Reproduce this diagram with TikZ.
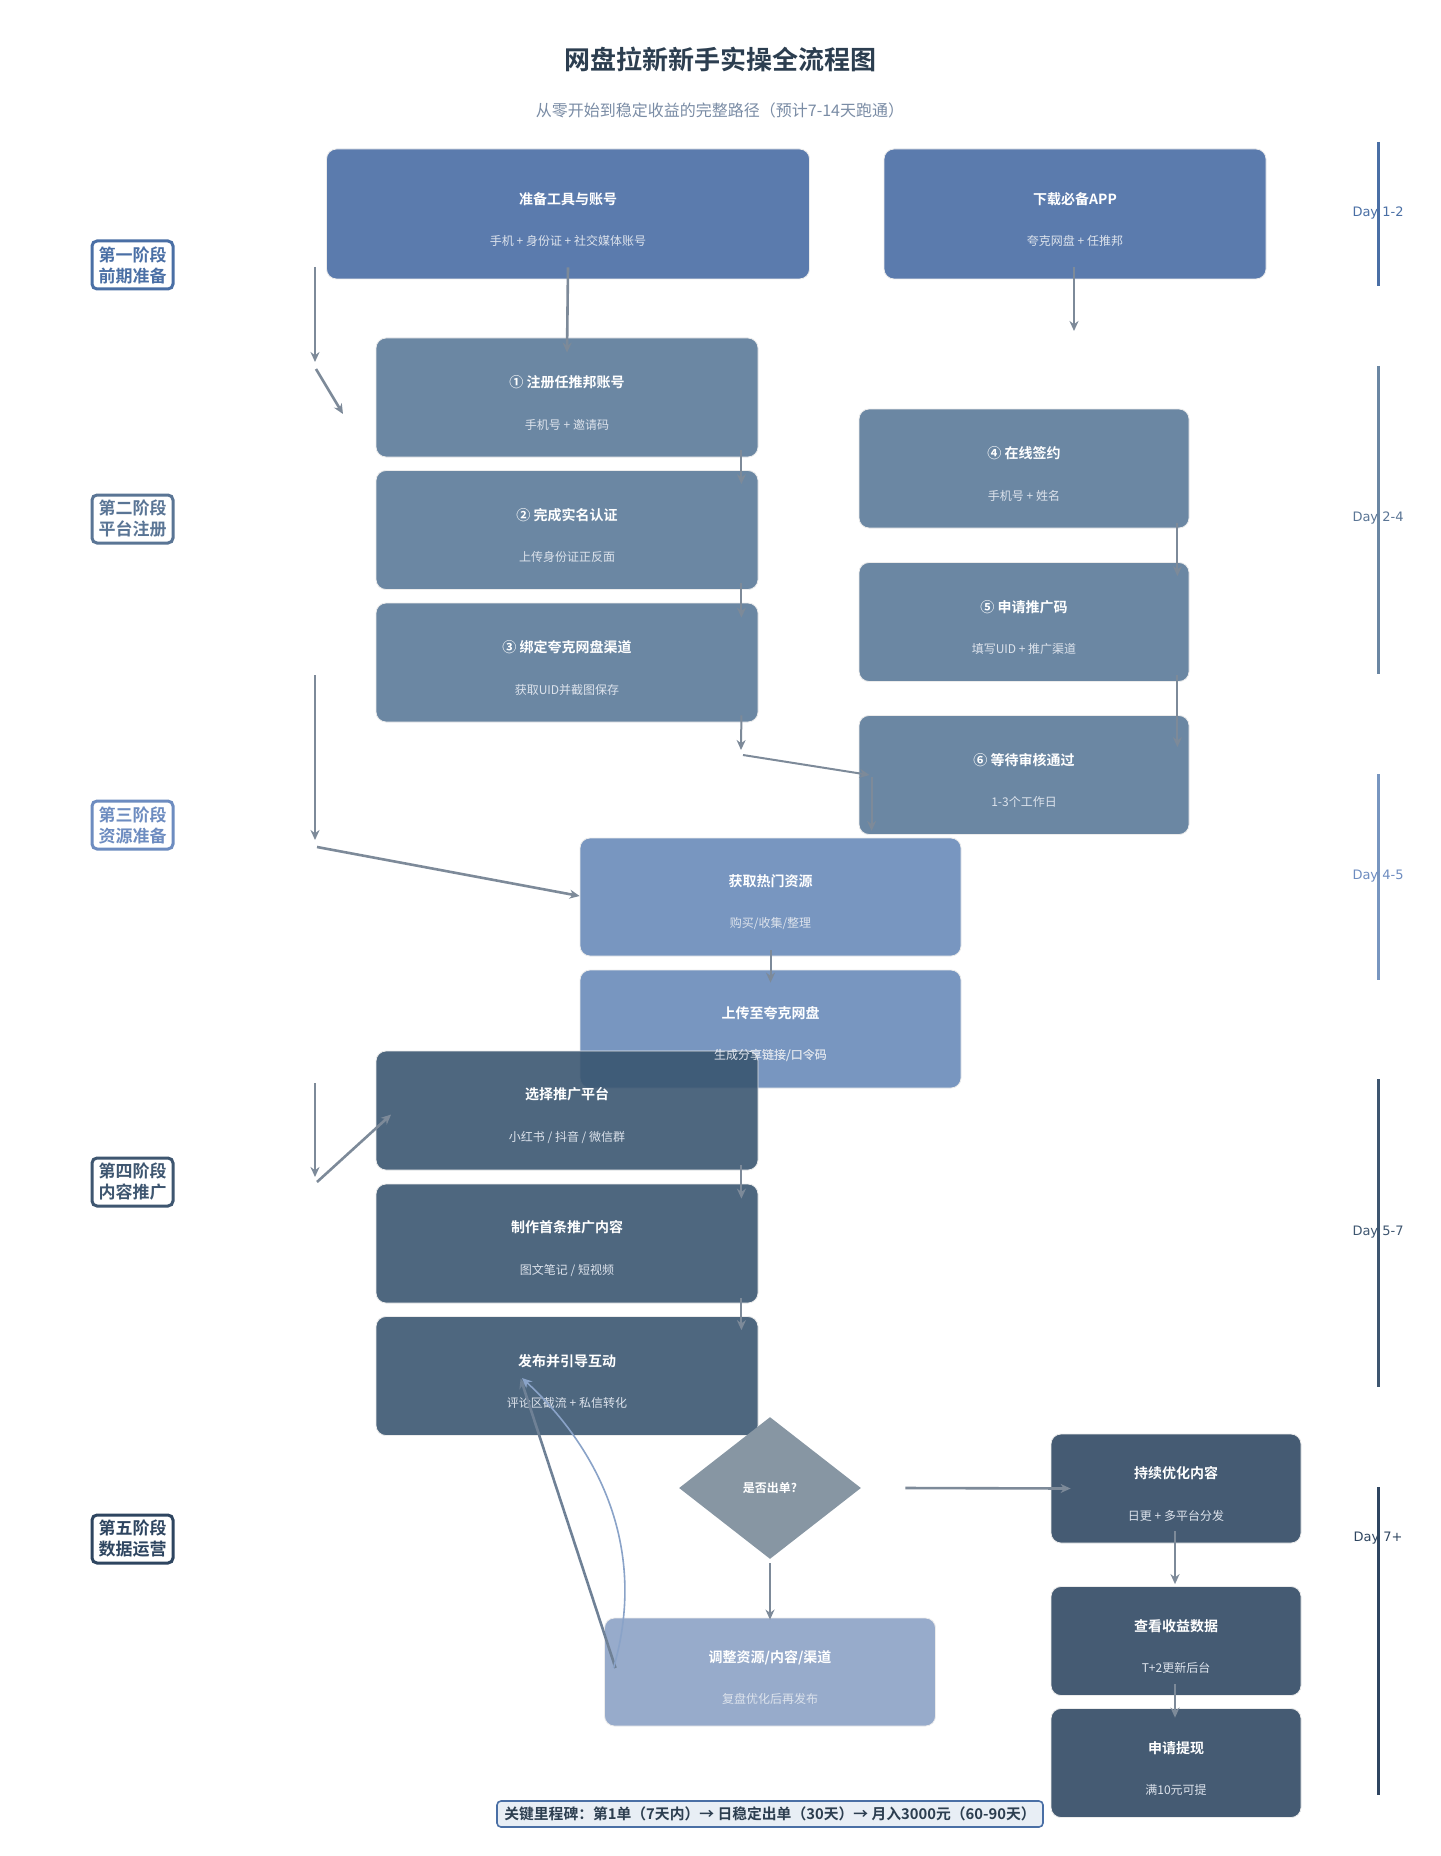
\documentclass[tikz,border=0pt]{standalone}
\usepackage{fontspec}
\setmainfont{Noto Sans CJK SC}[BoldFont={Noto Sans CJK SC Bold}]
\newfontfamily\dayfont{DejaVu Sans}
\usetikzlibrary{shapes.geometric,arrows.meta}

\definecolor{ink}{HTML}{2C3E50}
\definecolor{subgray}{HTML}{7A8CA5}
\definecolor{subtext}{HTML}{DDE3EC}
\definecolor{prepblue}{HTML}{5B7BAD}
\definecolor{regblue}{HTML}{6B87A3}
\definecolor{resblue}{HTML}{7896C0}
\definecolor{promblue}{HTML}{395570}
\definecolor{opsblue}{HTML}{455B73}
\definecolor{askgray}{HTML}{8796A3}
\definecolor{fixblue}{HTML}{97ABCB}
\definecolor{arrowgray}{HTML}{7D8A99}
\definecolor{loopgray}{HTML}{6F8196}
\definecolor{loopblue}{HTML}{8AA3C8}
\definecolor{stageA}{HTML}{4A6FA5}
\definecolor{stageB}{HTML}{5A7595}
\definecolor{stageC}{HTML}{6D8CC0}
\definecolor{stageD}{HTML}{3E5670}
\definecolor{stageE}{HTML}{2E4560}
\definecolor{notefill}{HTML}{E8EEF5}

% title line + grey sub line inside a card
\newcommand{\cardtext}[2]{{\fontsize{7}{8}\selectfont\bfseries\rule{0pt}{11.3pt}#1}\\[12.75pt]{\color{subtext}#2}}

\begin{document}
\begin{tikzpicture}[x=0.5pt,y=-0.5pt,
    card/.style={rectangle, rounded corners=5pt, draw=white!85!gray, line width=0.4pt,
      text=white, align=center, inner sep=0pt, font=\fontsize{6}{8}\selectfont},
    prepcard/.style={card, fill=prepblue, minimum height=65pt},
    regcard/.style={card, fill=regblue, minimum width=191pt, minimum height=59.5pt},
    rescard/.style={card, fill=resblue, minimum width=190.5pt, minimum height=59pt},
    promcard/.style={card, fill=promblue, fill opacity=0.89, text opacity=1,
      minimum width=191pt, minimum height=59.5pt},
    opscard/.style={card, fill=opsblue, minimum width=125pt, minimum height=54.5pt},
    fixcard/.style={card, fill=fixblue, minimum width=165.5pt, minimum height=54pt},
    stagebox/.style={rectangle, rounded corners=2.5pt, fill=white, line width=1.5pt,
      align=center, inner sep=0pt, minimum width=40.5pt, minimum height=24pt,
      font=\fontsize{8.5}{10.5}\selectfont\bfseries},
    arr/.style={draw=arrowgray, line width=1.3pt, -{Stealth[length=5pt,width=4.5pt]}},
    thinarr/.style={arr, line width=1pt},
    daybar/.style={line width=1.5pt},
    daytag/.style={font=\dayfont\fontsize{6.5}{7.5}\selectfont}]

  \fill[white] (0,0) rectangle (1440,1856);
  \useasboundingbox (0,0) rectangle (1440,1856);

  % heading
  \node[font=\fontsize{13}{15}\selectfont\bfseries, text=ink] (title) at (720,59)
    {网盘拉新新手实操全流程图};
  \node[font=\fontsize{8}{10}\selectfont, text=subgray] (subtitle) at (720,110)
    {从零开始到稳定收益的完整路径（预计7-14天跑通）};

  % stage labels
  \node[stagebox, draw=stageA, text=stageA] (st1) at (132.5,265) {第一阶段\\前期准备};
  \node[stagebox, draw=stageB, text=stageB] (st2) at (132.5,519) {第二阶段\\平台注册};
  \node[stagebox, draw=stageC, text=stageC] (st3) at (132.5,825) {第三阶段\\资源准备};
  \node[stagebox, draw=stageD, text=stageD] (st4) at (132.5,1182) {第四阶段\\内容推广};
  \node[stagebox, draw=stageE, text=stageE] (st5) at (132.5,1539) {第五阶段\\数据运营};

  % stage 1
  \node[prepcard, minimum width=241.5pt] (tools) at (568,214)
    {\cardtext{准备工具与账号}{手机 + 身份证 + 社交媒体账号}};
  \node[prepcard, minimum width=191pt] (app) at (1075,214)
    {\cardtext{下载必备APP}{夸克网盘 + 任推邦}};

  % stage 2
  \node[regcard] (reg) at (567,397.5) {\cardtext{① 注册任推邦账号}{手机号 + 邀请码}};
  \node[regcard] (realname) at (567,530) {\cardtext{② 完成实名认证}{上传身份证正反面}};
  \node[regcard] (bind) at (567,662.5) {\cardtext{③ 绑定夸克网盘渠道}{获取UID并截图保存}};
  \node[regcard, minimum width=165pt] (sign) at (1024,468.5) {\cardtext{④ 在线签约}{手机号 + 姓名}};
  \node[regcard, minimum width=165pt] (code) at (1024,622) {\cardtext{⑤ 申请推广码}{填写UID + 推广渠道}};
  \node[regcard, minimum width=165pt] (audit) at (1024,775) {\cardtext{⑥ 等待审核通过}{1-3个工作日}};

  % stage 3
  \node[rescard] (getres) at (770.5,897) {\cardtext{获取热门资源}{购买/收集/整理}};
  \node[rescard] (upload) at (770.5,1029) {\cardtext{上传至夸克网盘}{生成分享链接/口令码}};

  % stage 4
  \node[promcard] (pick) at (567,1110.5) {\cardtext{选择推广平台}{小红书 / 抖音 / 微信群}};
  \node[promcard] (make) at (567,1243.5) {\cardtext{制作首条推广内容}{图文笔记 / 短视频}};
  \node[promcard] (post) at (567,1376) {\cardtext{发布并引导互动}{评论区截流 + 私信转化}};
  % upload sub line stays on top of the overlapping card
  \node[card, draw=none, minimum width=190.5pt, minimum height=59pt] (uploadsub) at (upload)
    {\cardtext{\phantom{上传至夸克网盘}}{生成分享链接/口令码}};

  % stage 5
  \node[diamond, fill=askgray, text=white, inner sep=0pt, minimum width=91pt,
    minimum height=71pt, font=\fontsize{6}{7}\selectfont\bfseries] (ask) at (770,1488) {是否出单?};
  \node[opscard] (keep) at (1176,1488.5) {\cardtext{持续优化内容}{日更 + 多平台分发}};
  \node[opscard] (stats) at (1176,1641) {\cardtext{查看收益数据}{T+2更新后台}};
  \node[opscard] (cash) at (1176,1763) {\cardtext{申请提现}{满10元可提}};
  \node[fixcard] (adjust) at (770,1672) {\cardtext{调整资源/内容/渠道}{复盘优化后再发布}};

  % milestone note
  \node[rectangle, rounded corners=2pt, draw=stageA, fill=notefill, line width=0.8pt,
    text=ink, inner sep=0pt, minimum width=273pt, minimum height=13pt,
    font=\fontsize{7.4}{8}\selectfont\bfseries] (milestone) at (770,1814)
    {关键里程碑：第1单（7天内）→ 日稳定出单（30天）→ 月入3000元（60-90天）};

  % day bars
  \draw[daybar, stageA] (1378,142) -- (1378,286);
  \node[daytag, text=stageA] (day1) at (1378,213) {Day 1-2};
  \draw[daybar, regblue] (1378,366) -- (1378,674);
  \node[daytag, text=stageB] (day2) at (1378,518) {Day 2-4};
  \draw[daybar, resblue] (1378,774) -- (1378,980);
  \node[daytag, text=stageC] (day3) at (1378,876) {Day 4-5};
  \draw[daybar, stageD] (1378,1079) -- (1378,1387);
  \node[daytag, text=stageD] (day4) at (1378,1232) {Day 5-7};
  \draw[daybar, stageE] (1378,1487) -- (1378,1795);
  \node[daytag, text=stageE] (day5) at (1378,1538) {Day 7+};

  % free ends on the left
  \coordinate (l1a) at (315,267);  \coordinate (l1b) at (315,362);
  \coordinate (l1c) at (316,369);  \coordinate (l1d) at (343,414);
  \coordinate (l3a) at (315,675);  \coordinate (l3b) at (315,840);
  \coordinate (l3c) at (317,847);
  \coordinate (l4a) at (315,1083); \coordinate (l4b) at (315,1177);
  \coordinate (l4c) at (317,1182);
  \coordinate (appdrop) at (1074,331);
  \coordinate (binddrop) at (741,750);
  \coordinate (jog) at (743,755);

  % connectors
  \draw[arr] (l1a) -- (l1b);
  \draw[arr] (l1c) -- (l1d);
  \draw[arr] ([yshift=6pt]tools.south) -- ([yshift=-7.5pt]reg.north);
  \draw[arr] ([xshift=-0.5pt,yshift=6pt]app.south) -- (appdrop);
  \draw[thinarr] ([xshift=-8.5pt,yshift=3.5pt]reg.south east) -- ([xshift=-8.5pt,yshift=-7pt]realname.north east);
  \draw[thinarr] ([xshift=-8.5pt,yshift=3.5pt]realname.south east) -- ([xshift=-8.5pt,yshift=-7.5pt]bind.north east);
  \draw[thinarr] ([xshift=-8.5pt,yshift=3.5pt]bind.south east) -- (binddrop);
  \draw[thinarr] (jog) -- ([xshift=5.5pt]audit.west);
  \draw[thinarr] ([xshift=6.5pt,yshift=-1pt]audit.west) -- ([xshift=6.5pt,yshift=2pt]audit.south west);
  \draw[thinarr] ([xshift=-6pt,yshift=2.5pt]sign.south east) -- ([xshift=-6pt,yshift=-7pt]code.north east);
  \draw[thinarr] ([xshift=-6pt,yshift=3.25pt]code.south east) -- ([xshift=-6pt,yshift=-16pt]audit.north east);

  \draw[arr] (l3a) -- (l3b);
  \draw[arr] (l3c) -- ([yshift=0.5pt]getres.west);
  \draw[thinarr] ([yshift=3pt]getres.south) -- ([yshift=-6.5pt]upload.north);

  \draw[arr] (l4a) -- (l4b);
  \draw[arr] (l4c) -- ([xshift=7.75pt,yshift=-2pt]pick.west);
  \draw[thinarr] ([xshift=-8.5pt,yshift=2.5pt]pick.south east) -- ([xshift=-8.5pt,yshift=-7.5pt]make.north east);
  \draw[thinarr] ([xshift=-8.5pt,yshift=2.5pt]make.south east) -- ([xshift=-8.5pt,yshift=-7pt]post.north east);

  \draw[arr] ([xshift=22pt]ask.east) -- ([xshift=10pt]keep.west);
  \draw[arr] ([yshift=-2pt]ask.south) -- ([yshift=-1pt]adjust.north);
  \draw[arr] ([xshift=-0.5pt,yshift=6pt]keep.south) -- ([xshift=-0.5pt,yshift=1pt]stats.north);
  \draw[arr] ([xshift=-0.5pt,yshift=5.75pt]stats.south) -- ([xshift=-0.5pt,yshift=-4.75pt]cash.north);
  \draw[arr, draw=loopgray] ([xshift=5.7pt,yshift=2pt]adjust.west) -- ([xshift=-23.2pt,yshift=-1.25pt]post.center);
  \draw[draw=loopblue, line width=0.8pt, -{Stealth[length=5pt,width=4.5pt]}]
    ([xshift=4.7pt,yshift=2pt]adjust.west) .. controls (648,1550) and (600,1450) .. ([xshift=-22.5pt,yshift=-1pt]post.center);
\end{tikzpicture}
\end{document}
